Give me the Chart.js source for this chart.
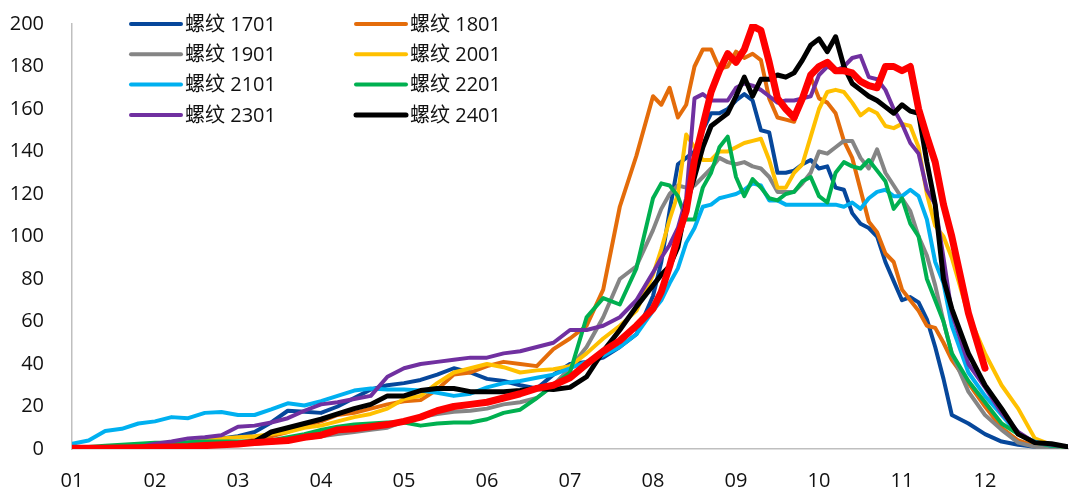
<!DOCTYPE html>
<html>
<head>
<meta charset="utf-8">
<script src="https://cdn.jsdelivr.net/npm/chart.js@4.4.1/dist/chart.umd.min.js"></script>
<style>
  html, body { margin: 0; padding: 0; background: #fff; }
  #wrap { width: 1071px; height: 489px; position: relative; }
</style>
</head>
<body>
<div id="wrap"><canvas id="c"></canvas></div>
<script>
// 螺纹各合约季节性走势，横轴为月份（0 = 1月初，12 = 年末）
const monthLabels = ["01", "02", "03", "04", "05", "06", "07", "08", "09", "10", "11", "12"];
const yTicks = [0, 20, 40, 60, 80, 100, 120, 140, 160, 180, 200];

// 1-7月每 0.2 个月取一点，7-10.5月波动大，每 0.1 个月取一点
const months = [0,0.2,0.4,0.6,0.8,1,1.2,1.4,1.6,1.8,2,2.2,2.4,2.6,2.8,3,3.2,3.4,3.6,3.8,4,4.2,4.4,4.6,4.8,5,5.2,5.4,5.6,5.8,6,6.2,6.4,6.6,6.8,7,
  7.1,7.2,7.3,7.4,7.5,7.6,7.7,7.8,7.9,8,8.1,8.2,8.3,8.4,8.5,8.6,8.7,8.8,8.9,9,9.1,9.2,9.3,9.4,9.5,9.6,9.7,9.8,9.9,10,10.1,10.2,10.3,10.4,10.5,
  10.6,10.8,11,11.2,11.4,11.6,11.8,12];

const rb1701 = [0,0.5,1,1,1.5,2,2.5,3,4,5,6,8,12.5,18,17.5,17,20,24,28,30,31,32.5,35,38,36,33,32,30,28.5,35,40,41,43,48,54,72,
  88,112,134,137,140,150,158,158,160,164,167,164,150,149,130,130,131,134,136,132,133,123,122,111,106,104,100,88,79,70,71.5,69,61,48,33,
  16,12,7,3.5,2,1,0.5,0.3];
const rb1801 = [0,0,0.3,0.5,0.8,1,1.2,1.5,2,2.5,3,4.5,6,8,11,13,16,17,19,21,22.5,23,28,35,36,39,41,40,39,47,52,58,75,114,138,166,
  162,170,156,162,180,188,188,179,180,187,184,186,183,165,156,155,154,165,175,165,163,158,145,137,122,107,102,92,88,75,70,65,58,57,50,
  42,31,20,10,4,1.5,0.8,0.5];
const rb1901 = [0,0.3,0.5,0.8,1,1.2,1.4,1.6,1.8,2,2.2,2.5,3,4,5,6,7,8,9,10,13,15,16.5,17.5,18,19,21,22,24,30,38,48,62,80,86,103,
  113,120,124,123,124,128,132,137,135,134,135,133,132,128,121,121,121,125,130,140,139,142,145,145,137,132,141,130,124,118,112,100,91,77,60,
  45,27,16,9,3,1,0.5,0.3];
const rb2001 = [0,0.2,0.3,0.5,0.8,1.5,2,3,4,5,5.5,6,7,8,10,11,13,15,16.5,19,23.5,25,31,36,38,40,38.5,36,37,37.5,39,45,52,58,65,82,
  94,108,120,148,142,136,136,140,140,142,144,145,146,136,123,123,130,134,147,160,168,169,168,163,157,160,158,152,151,153,152,142,120,105,100,
  90,63,45,30,19,5,2,0.5];
const rb2101 = [2.5,4,8.5,9.5,12,13,15,14.5,17,17.4,16,16,18.6,21.5,20.5,22.5,25,27.5,28.5,28,28,27.5,26.5,25,26,29,31,32,33.5,35,38,41,44,48,54,65,
  70,78,85,97,104,114,115,118,119,120,122,125,124,117,117,115,115,115,115,115,115,115,114,116,113,118,121,122,119,119,122,119,108,88,78,
  58,36,25,16,7,3.5,1.5,1];
const rb2201 = [0.5,1,1.5,2,2.5,3,3,3.2,3.5,3.5,3.5,3.5,4,5.5,7,9,10.5,11.5,12,12.5,12.5,11,12,12.5,12.5,14,17,18.5,24,30,36,62,71,68,85,118,
  125,124,119,108,108,123,130,142,147,128,119,127,123,118,117,120,121,126,128,119,116,130,135,133,132,136,131,126,113,118,106,100,80,70,60,
  45,32,22,12,7,3,1.5,1];
const rb2301 = [0,0.2,0.3,0.5,0.8,2.5,3.5,5,5.5,6.5,10.5,11,12.5,14.5,18,21,22,23.5,25,34,38,40,41,42,43,43,45,46,48,50,56,56,58,62,70,83,
  90,96,104,118,165,167,164,164,164,170,172,171,169,166,163,164,164,165,166,176,180,178,180,184,185,175,174,169,160,153,144,139,122,115,90,
  64,40,29,17,8,3,2,1];
const rb2401 = [0,0.2,0.3,0.5,0.6,0.8,1,1.2,1.5,2,2.5,3.5,8,10,12,14,16.5,19,21,25,25,27.5,28.5,28.5,27,27,27,27.5,28.5,28,29,34,46,56,67,77,
  82,86,95,115,128,142,152,155,158,166,175,166,174,174,176,175,177,183,190,193,187,194,180,172,169,166,164,161,158,162,159,158,135,115,80,
  66,45,30,19,7,3,2.5,1];
// 当年合约（图例中未列出），到 12 月初为止
const rb2501 = [0.3,0.3,0.4,0.5,0.6,0.8,1,1.2,1.6,2,2.4,3,3.5,4,5.5,6.5,9,9.5,10.5,11.5,13,15,18,20,21,22,24,26,28.5,30,33.5,40,46,51,58,66,
  74,86,100,112,136,152,168,178,186,182,188,199,197,182,165,160,156,165,176,180,182,178,178,177,173,171,170,180,180,178,180,160,147,135,115,
  100,64,38];

const FONT = '"Open Sans", "Noto Sans CJK SC", sans-serif';

function pts(vals) {
  return vals.map((v, i) => ({ x: months[i], y: v }));
}

function line(label, vals, color, width, order, inLegend) {
  return {
    label, data: pts(vals), borderColor: color, backgroundColor: color,
    borderWidth: width, pointRadius: 0, tension: 0, order,
    borderJoinStyle: "round", borderCapStyle: "round", inLegend,
  };
}

const datasets = [
  line("螺纹 1701", rb1701, "#06479B", 4, 8, true),
  line("螺纹 1801", rb1801, "#E46C0A", 4, 7, true),
  line("螺纹 1901", rb1901, "#858585", 4, 6, true),
  line("螺纹 2001", rb2001, "#FFC000", 4, 5, true),
  line("螺纹 2101", rb2101, "#00B0F0", 4, 4, true),
  line("螺纹 2201", rb2201, "#00B050", 4, 3, true),
  line("螺纹 2301", rb2301, "#7030A0", 4, 2, true),
  line("螺纹 2401", rb2401, "#000000", 5, 1, true),
  line("螺纹 2501", rb2501, "#FF0000", 7, 0, false),
];

// 两列四行的图例，画在图内左上方
const cornerLegend = {
  id: "cornerLegend",
  afterDraw(chart) {
    const ctx = chart.ctx;
    ctx.save();
    ctx.font = "20px " + FONT;
    ctx.textBaseline = "middle";
    ctx.lineCap = "round";
    let k = 0;
    chart.data.datasets.forEach(ds => {
      if (!ds.inLegend) return;
      const x0 = k % 2 ? 356 : 131;
      const y = 24 + Math.floor(k / 2) * 30.3;
      ctx.strokeStyle = ds.borderColor;
      ctx.lineWidth = ds.borderWidth;
      ctx.beginPath();
      ctx.moveTo(x0, y);
      ctx.lineTo(x0 + 50, y);
      ctx.stroke();
      ctx.fillStyle = "#111";
      ctx.fillText(ds.label, x0 + 54, y + 1);
      k++;
    });
    ctx.restore();
  },
};

new Chart(document.getElementById("c"), {
  type: "line",
  data: { datasets },
  plugins: [cornerLegend],
  options: {
    responsive: true,
    maintainAspectRatio: false,
    animation: false,
    layout: { padding: { top: 24, right: 3, left: 0, bottom: 0 } },
    plugins: { legend: { display: false }, tooltip: { enabled: false } },
    scales: {
      x: {
        type: "linear", min: 0, max: 12,
        grid: { drawOnChartArea: false, drawTicks: false },
        border: { color: "#BFBFBF", width: 1.5 },
        ticks: {
          stepSize: 1, autoSkip: false, maxRotation: 0, padding: 20,
          color: "#111", font: { family: FONT, size: 20 },
          callback: v => monthLabels[v] ?? "",
        },
        afterFit: s => { s.height = 40; s.paddingLeft = 0; s.paddingRight = 0; },
      },
      y: {
        min: 0, max: 200,
        grid: { drawOnChartArea: false, drawTicks: false },
        border: { color: "#BFBFBF", width: 1.5 },
        ticks: {
          stepSize: 20, padding: 28,
          color: "#111", font: { family: FONT, size: 20 },
          callback: v => (yTicks.includes(v) ? String(v) : ""),
        },
        afterFit: s => { s.width = 72; s.paddingTop = 0; s.paddingBottom = 0; },
      },
    },
  },
});
</script>
</body>
</html>
